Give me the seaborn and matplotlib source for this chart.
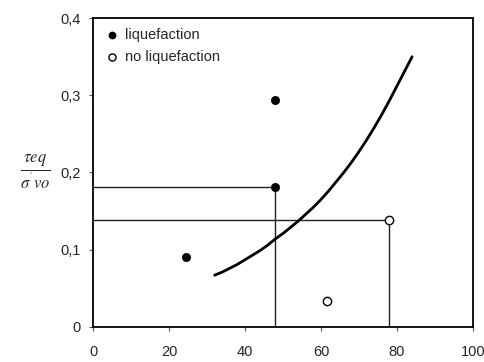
import matplotlib

matplotlib.use("Agg")
import matplotlib.pyplot as plt
import pandas as pd
import seaborn as sns

# observed points
liq_x = [24.5, 48.0, 48.0]
liq_y = [0.091, 0.181, 0.294]
noliq_x = [78.0, 61.5]
noliq_y = [0.138, 0.034]

# boundary curve
curve_x = [32, 34, 36, 38, 40, 42, 44, 46, 48, 50, 52, 54, 56, 58, 60, 62, 64,
           66, 68, 70, 72, 74, 76, 78, 80, 82, 84]
curve_y = [0.067, 0.071, 0.076, 0.081, 0.087, 0.093, 0.099, 0.106, 0.114, 0.121,
           0.129, 0.137, 0.146, 0.155, 0.165, 0.176, 0.188, 0.200, 0.213, 0.227,
           0.242, 0.258, 0.275, 0.293, 0.312, 0.331, 0.350]

# guide lines drop from these points to the axes
guide_points = [(liq_x[1], liq_y[1]), (noliq_x[0], noliq_y[0])]

x_ticks = [0, 20, 40, 60, 80, 100]
y_ticks = [0, 0.1, 0.2, 0.3, 0.4]
y_tick_labels = ["0", "0,1", "0,2", "0,3", "0,4"]

sns.set_style("white")
plt.rcParams["font.family"] = ["Liberation Sans", "DejaVu Sans"]
plt.rcParams["mathtext.fontset"] = "stix"

fig = plt.figure(figsize=(4.85, 3.62), dpi=100)
ax = fig.add_axes([0.192, 0.097, 0.783, 0.853])

for gx, gy in guide_points:
    ax.plot([0, gx], [gy, gy], color="#222222", lw=1.0, zorder=1)
    ax.plot([gx, gx], [0, gy], color="#222222", lw=1.0, zorder=1)

curve = pd.DataFrame({"x": curve_x, "y": curve_y})
sns.lineplot(data=curve, x="x", y="y", ax=ax, color="black", lw=2.0,
             sort=False, zorder=2)

sns.scatterplot(x=liq_x, y=liq_y, ax=ax, color="black", s=36,
                edgecolor="black", label="liquefaction", zorder=3)
sns.scatterplot(x=noliq_x, y=noliq_y, ax=ax, color="white", s=36,
                edgecolor="black", linewidth=1.0, label="no liquefaction", zorder=3)

ax.set_xlim(0, 100)
ax.set_ylim(0, 0.4)
ax.set_xticks(x_ticks)
ax.set_yticks(y_ticks)
ax.set_yticklabels(y_tick_labels)
ax.tick_params(axis="both", labelsize=10.5, length=3, width=0.8,
               direction="out", color="#555555", pad=6)
ax.tick_params(axis="x", pad=10)
ax.tick_params(bottom=True, left=True)
for sp in ax.spines.values():
    sp.set_color("black")
    sp.set_linewidth(1.3)

ax.set_xlabel("")
ax.set_ylabel("")
fig.text(0.072, 0.525, r"$\frac{\tau eq}{\sigma^{'} vo}$", fontsize=17,
         ha="center", va="center")

ax.legend(loc="upper left", frameon=False, fontsize=10.5, handletextpad=0.3,
          borderaxespad=0.3, labelspacing=0.5, handlelength=1.2,
          markerscale=0.85)

fig.savefig("out.png", dpi=100)
